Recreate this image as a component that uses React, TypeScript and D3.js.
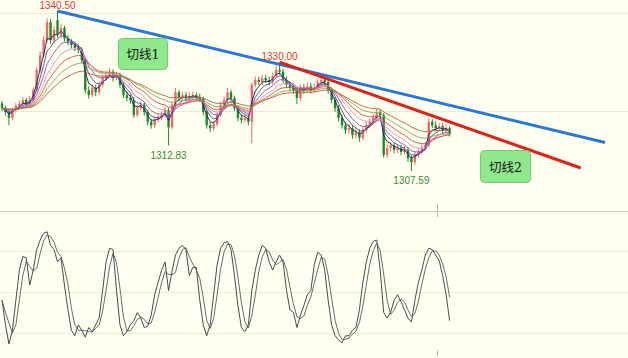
import React from "react";
import * as d3 from "d3";

const W = 628;
const H = 358;

const opens = [
  1321.5,1320.5,1319.7,1318.5,1320.1,1321.0,1321.4,1322.2,1321.4,1322.2,
  1324.2,1328.4,1331.4,1334.5,1338.2,1334.5,1338.6,1335.6,1337.0,1334.9,
  1334.1,1333.5,1332.9,1332.5,1330.4,1324.2,1323.2,1324.7,1323.8,1325.3,
  1326.7,1327.3,1328.0,1326.7,1327.3,1325.3,1323.2,1322.6,1322.2,1319.1,
  1320.5,1321.2,1319.7,1317.7,1317.0,1318.1,1318.5,1319.1,1320.1,1316.6,
  1321.2,1323.8,1322.8,1323.2,1322.6,1323.0,1323.2,1322.8,1322.4,1319.7,
  1317.0,1316.4,1317.2,1319.1,1321.2,1322.2,1323.8,1322.6,1320.5,1318.5,
  1318.1,1318.5,1317.7,1325.3,1326.3,1325.9,1326.7,1326.3,1325.9,1327.1,
  1328.4,1328.0,1326.3,1325.3,1324.7,1324.2,1322.6,1324.7,1324.2,1325.0,
  1324.2,1324.7,1325.9,1326.3,1325.9,1324.2,1322.2,1320.5,1318.5,1317.0,
  1316.0,1316.4,1315.0,1315.6,1314.4,1316.0,1317.0,1317.7,1318.5,1319.7,
  1319.1,1310.9,1312.3,1312.9,1311.9,1312.3,1311.5,1311.9,1310.2,1309.4,
  1310.9,1311.5,1312.3,1312.9,1317.7,1317.0,1316.4,1316.8,1316.0,1316.4,
];
const highs = [
  1322.0,1321.0,1320.2,1320.6,1321.6,1322.0,1322.8,1322.6,1323.0,1324.8,
  1329.0,1332.2,1335.4,1339.0,1338.8,1337.4,1340.5,1337.8,1337.5,1335.5,
  1334.7,1334.2,1333.6,1333.0,1330.9,1325.0,1325.4,1325.3,1326.0,1327.3,
  1328.0,1328.7,1328.5,1328.0,1327.8,1325.8,1324.0,1323.3,1322.8,1321.2,
  1321.9,1321.8,1320.2,1318.3,1318.8,1319.2,1319.8,1320.8,1320.6,1321.8,
  1324.7,1324.3,1323.9,1323.8,1323.7,1323.9,1323.8,1323.5,1322.9,1320.2,
  1317.7,1317.9,1319.8,1321.8,1322.9,1324.7,1324.3,1323.1,1321.0,1319.2,
  1319.2,1319.0,1325.8,1327.0,1327.0,1327.4,1327.3,1327.0,1327.8,1329.2,
  1330.0,1328.6,1327.0,1326.0,1325.4,1324.8,1325.4,1325.5,1325.8,1325.7,
  1325.5,1326.6,1327.1,1327.0,1326.5,1324.8,1322.8,1321.1,1319.2,1317.6,
  1317.2,1317.0,1316.4,1316.2,1316.7,1317.7,1318.4,1319.2,1320.5,1320.2,
  1319.5,1313.0,1313.6,1313.4,1313.1,1313.0,1312.7,1312.4,1310.8,1311.6,
  1312.2,1313.0,1313.6,1318.5,1318.3,1317.8,1317.5,1317.4,1317.1,1316.8,
];
const lows = [
  1319.9,1319.0,1317.0,1318.0,1319.6,1320.5,1321.0,1320.8,1321.0,1321.8,
  1323.9,1327.8,1330.9,1334.0,1333.8,1334.0,1335.0,1335.0,1334.2,1333.5,
  1332.8,1332.2,1331.8,1329.8,1323.5,1322.5,1322.8,1323.0,1323.3,1324.8,
  1326.2,1326.9,1326.0,1326.2,1324.6,1322.6,1321.9,1321.4,1318.5,1318.6,
  1320.0,1319.0,1317.0,1316.3,1316.5,1317.6,1318.0,1318.6,1312.83,1316.2,
  1320.8,1322.1,1322.2,1321.9,1322.0,1322.4,1322.1,1321.8,1319.0,1316.3,
  1315.6,1315.8,1316.8,1318.7,1320.8,1321.8,1322.0,1319.9,1317.8,1317.4,
  1317.5,1317.0,1313.3,1324.8,1325.2,1325.3,1325.7,1325.2,1325.4,1326.8,
  1327.4,1325.7,1324.6,1324.0,1323.5,1321.4,1322.0,1323.5,1323.6,1323.5,
  1323.6,1324.2,1325.3,1325.2,1323.5,1321.5,1319.8,1317.8,1316.3,1315.2,
  1315.3,1314.2,1314.3,1313.6,1314.0,1315.5,1316.5,1317.2,1318.0,1318.5,
  1310.3,1310.3,1311.6,1311.2,1311.3,1310.8,1310.9,1309.5,1307.59,1308.8,
  1310.3,1311.0,1311.8,1312.5,1316.4,1315.8,1315.9,1315.4,1315.6,1314.7,
];
const closes = [
  1320.5,1319.7,1318.5,1320.1,1321.0,1321.4,1322.2,1321.4,1322.2,1324.2,
  1328.4,1331.4,1334.5,1338.2,1334.5,1336.6,1335.6,1337.0,1334.9,1334.1,
  1333.5,1332.9,1332.5,1330.4,1324.2,1323.2,1324.7,1323.8,1325.3,1326.7,
  1327.3,1328.0,1326.7,1327.3,1325.3,1323.2,1322.6,1322.2,1319.1,1320.5,
  1321.2,1319.7,1317.7,1317.0,1318.1,1318.5,1319.1,1320.1,1316.6,1321.2,
  1323.8,1322.8,1323.2,1322.6,1323.0,1323.2,1322.8,1322.4,1319.7,1317.0,
  1316.4,1317.2,1319.1,1321.2,1322.2,1323.8,1322.6,1320.5,1318.5,1318.1,
  1318.5,1317.7,1325.3,1326.3,1325.9,1326.7,1326.3,1325.9,1327.1,1328.4,
  1328.0,1326.3,1325.3,1324.7,1324.2,1322.6,1324.7,1324.2,1325.0,1324.2,
  1324.7,1325.9,1326.3,1325.9,1324.2,1322.2,1320.5,1318.5,1317.0,1316.0,
  1316.4,1315.0,1315.6,1314.4,1316.0,1317.0,1317.7,1318.5,1319.7,1319.1,
  1310.9,1312.3,1312.9,1311.9,1312.3,1311.5,1311.9,1310.2,1309.4,1310.9,
  1311.5,1312.3,1312.9,1317.7,1317.0,1316.4,1316.8,1316.0,1316.4,1315.2,
];
const stochK = [
  44,26,12,22,44,66,76,75,55,66,
  81,88,93,94,84,81,72,75,55,37,
  22,18,26,22,17,24,21,26,31,51,
  72,82,81,51,26,18,21,26,29,35,
  31,24,25,33,48,57,66,72,51,65,
  77,82,84,81,62,68,68,44,26,18,
  26,48,70,82,86,87,81,62,40,24,
  21,26,51,66,77,84,82,72,66,72,
  77,72,51,37,35,24,33,40,48,51,
  70,79,77,66,44,26,18,15,13,18,
  18,22,24,37,57,72,82,87,88,66,
  35,31,35,44,48,43,37,31,28,44,
  57,66,77,82,81,77,73,62,48,29,
];

const maPeriods = [3, 5, 8, 12, 17, 24, 34];
const maColors = ["#1c1c50", "#4a4a9a", "#9a4cb0", "#e48ac6", "#d45050", "#8ea44c", "#b0603c"];

const priceGrid = [1340, 1320];
const oscGrid = [20, 50, 80];

const priceLabels = [
  { text: "1340.50", i: 16, p: 1340.5, pos: "above", color: "#e23a2e" },
  { text: "1330.00", i: 80, p: 1330.0, pos: "above", color: "#e23a2e" },
  { text: "1312.83", i: 48, p: 1312.83, pos: "below", color: "#3a8c2e" },
  { text: "1307.59", i: 118, p: 1307.59, pos: "below", color: "#3a8c2e" },
];

const trendBlue = [ { i: 16, p: 1340.5 }, { i: 173.8, p: 1313.45 } ];
const trendRed = [ { i: 80, p: 1330.0 }, { i: 166.8, p: 1308.2 } ];

const notes = [
  { text: "切线1", x: 118, y: 38, w: 49, h: 31 },
  { text: "切线2", x: 480, y: 150, w: 50, h: 32 },
];

function ema(values: number[], n: number) {
  const k = 2 / (n + 1);
  const out: number[] = [];
  values.forEach((v, i) => {
    out.push(i === 0 ? v : out[i - 1] + k * (v - out[i - 1]));
  });
  return out;
}

export default function App() {
  const N = closes.length;
  const x = d3.scaleLinear().domain([0, N - 1]).range([2, 449.6]);
  const y = d3.scaleLinear().domain([1340.5, 1307.59]).range([11, 171]);
  const yo = d3.scaleLinear().domain([0, 100]).range([360.4, 223.6]);

  const stochD = stochK.map((_, i) => {
    const s = stochK.slice(Math.max(0, i - 2), i + 1);
    return d3.mean(s) as number;
  });

  const line = d3.line<number>().x((_, i) => x(i)).y((d) => y(d));
  const oscLine = d3.line<number>().x((_, i) => x(i)).y((d) => yo(d));
  const tline = d3.line<{ i: number; p: number }>().x((d) => x(d.i)).y((d) => y(d.p));

  const bw = 2.4;

  return (
    <svg width={W} height={H} style={{ position: "absolute", left: 0, top: 0, display: "block" }}>
      <rect x={0} y={0} width={W} height={H} fill="#fffff0" />
      {priceGrid.map((g) => (
        <line key={g} x1={0} x2={W} y1={Math.round(y(g)) + 0.5} y2={Math.round(y(g)) + 0.5} stroke="#ecebd6" strokeWidth={1} />
      ))}
      {oscGrid.map((g) => (
        <line key={g} x1={0} x2={W} y1={Math.round(yo(g)) + 0.5} y2={Math.round(yo(g)) + 0.5} stroke="#ecebd6" strokeWidth={1} />
      ))}
      <line x1={0} x2={W} y1={211.5} y2={211.5} stroke="#c8c8c0" strokeWidth={1} />
      <line x1={437.5} x2={437.5} y1={204} y2={211} stroke="#b8b8b0" />
      <line x1={437.5} x2={437.5} y1={212} y2={217} stroke="#b8b8b0" />
      <line x1={437.5} x2={437.5} y1={350} y2={356} stroke="#b8b8b0" />

      {closes.map((c, i) => {
        const o = opens[i];
        const up = c >= o;
        const col = up ? "#ee6a6a" : "#1e8a2a";
        const top = y(Math.max(o, c));
        const bot = y(Math.min(o, c));
        return (
          <g key={i}>
            <line x1={x(i)} x2={x(i)} y1={y(highs[i])} y2={y(lows[i])} stroke={col} strokeWidth={1} />
            <rect x={x(i) - bw / 2} y={top} width={bw} height={Math.max(1, bot - top)} fill={col} />
          </g>
        );
      })}

      {maPeriods.map((p, k) => (
        <path key={p} d={line(ema(closes, p)) || ""} fill="none" stroke={maColors[k]} strokeWidth={1} opacity={0.9} />
      ))}

      <path d={tline(trendBlue) || ""} stroke="#2a78d4" strokeWidth={3} fill="none" />
      <path d={tline(trendRed) || ""} stroke="#e0201c" strokeWidth={3} fill="none" />

      {priceLabels.map((l) => (
        <text key={l.text} x={x(l.i)} y={l.pos === "above" ? y(l.p) - 2 : y(l.p) + 13}
          textAnchor="middle" fontSize={10} fontFamily="'Liberation Sans', Arial, sans-serif" fill={l.color}>
          {l.text}
        </text>
      ))}

      {notes.map((n) => (
        <g key={n.text}>
          <rect x={n.x + 0.5} y={n.y + 0.5} width={n.w} height={n.h} rx={4} fill="#8fe98c" stroke="#74c870" />
          <text x={n.x + n.w / 2 + 0.5} y={n.y + n.h / 2 + 1} textAnchor="middle" dominantBaseline="central"
            fontSize={12.5} fontFamily="'DejaVu Serif', 'Noto Sans CJK SC', serif" fill="#111">
            {n.text}
          </text>
        </g>
      ))}

      <path d={oscLine(stochD) || ""} fill="none" stroke="#6a6a70" strokeWidth={1} />
      <path d={oscLine(stochK) || ""} fill="none" stroke="#4a4a55" strokeWidth={1} />
    </svg>
  );
}
